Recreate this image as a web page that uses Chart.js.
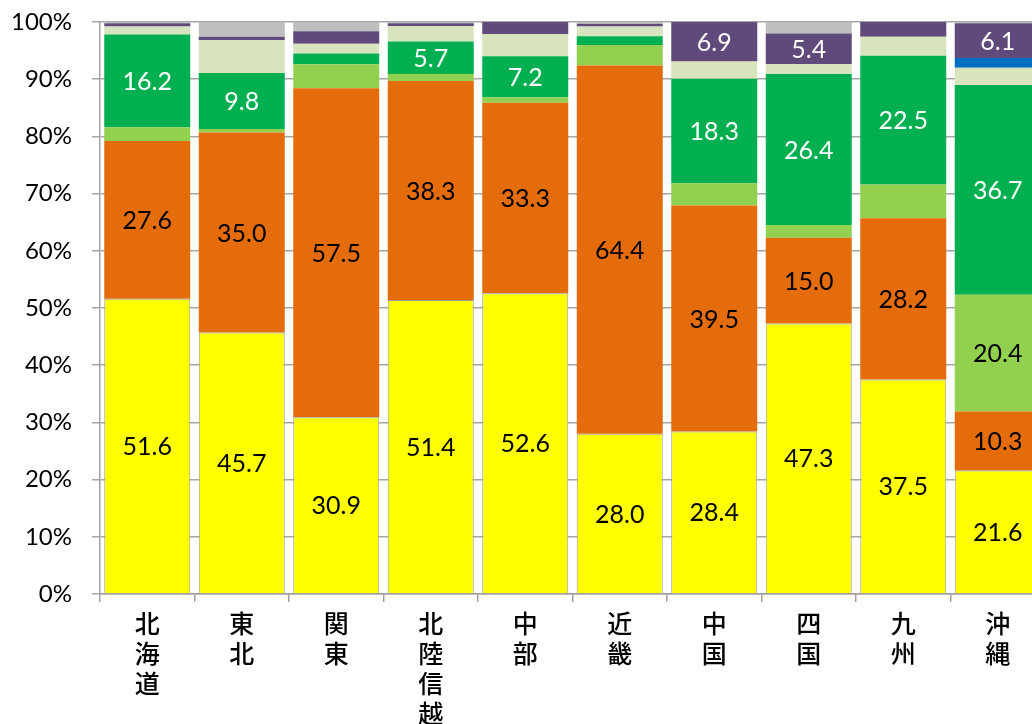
<!DOCTYPE html>
<html>
<head>
<meta charset="utf-8">
<script src="https://cdn.jsdelivr.net/npm/chart.js@4/dist/chart.umd.min.js"></script>
<style>
  html, body { margin: 0; padding: 0; background: #fff; overflow: hidden; }
  #wrap { width: 1048px; height: 724px; }
</style>
</head>
<body>
<div id="wrap"><canvas id="myChart" width="1048" height="724"></canvas></div>
<script>
// regions, written one character per line under the axis
const regions = ['北海道', '東北', '関東', '北陸信越', '中部', '近畿', '中国', '四国', '九州', '沖縄'];

// shares in percent, bottom of the stack first
const yellowSeries    = [51.6, 45.7, 30.9, 51.4, 52.6, 28.0, 28.4, 47.3, 37.5, 21.6];
const orangeSeries    = [27.6, 35.0, 57.5, 38.3, 33.3, 64.4, 39.5, 15.0, 28.2, 10.3];
const lightGreenSeries = [2.4, 0.6, 4.2, 1.2, 0.9, 3.6, 3.9, 2.2, 5.9, 20.4];
const greenSeries     = [16.2, 9.8, 1.9, 5.7, 7.2, 1.5, 18.3, 26.4, 22.5, 36.7];
const paleGreenSeries = [1.4, 5.7, 1.7, 2.7, 3.9, 1.7, 3.0, 1.7, 3.3, 3.0];
const blueSeries      = [0, 0, 0, 0, 0, 0, 0, 0, 0, 1.7];
const purpleSeries    = [0.6, 0.6, 2.2, 0.5, 2.1, 0.5, 6.9, 5.4, 2.6, 6.1];
const graySeries      = [0.2, 2.6, 1.6, 0.2, 0, 0.3, 0, 2.0, 0, 0.2];

const yTicks = [0, 10, 20, 30, 40, 50, 60, 70, 80, 90, 100];

// smallest value that gets a number written on it (null = never)
const labelMin = [0, 0, 10, 5, null, null, 5, null];

const segments = [
  { data: yellowSeries,     color: '#FFFF00', text: '#000' },
  { data: orangeSeries,     color: '#E46C0A', text: '#000' },
  { data: lightGreenSeries, color: '#92D050', text: '#000' },
  { data: greenSeries,      color: '#00B050', text: '#fff' },
  { data: paleGreenSeries,  color: '#D7E4BD', text: '#000' },
  { data: blueSeries,       color: '#0070C0', text: '#fff' },
  { data: purpleSeries,     color: '#604A7B', text: '#fff' },
  { data: graySeries,       color: '#BFBFBF', text: '#000' }
];

const valueLabels = {
  id: 'valueLabels',
  afterDatasetsDraw(chart) {
    const ctx = chart.ctx;
    ctx.save();
    ctx.font = '25px Lato, "Noto Sans", sans-serif';
    ctx.textAlign = 'center';
    ctx.textBaseline = 'middle';
    chart.data.datasets.forEach((ds, i) => {
      const min = labelMin[i];
      if (min === null) return;
      chart.getDatasetMeta(i).data.forEach((bar, j) => {
        const v = ds.data[j];
        if (v < min || v === 0) return;
        ctx.fillStyle = segments[i].text;
        ctx.fillText(v.toFixed(1), bar.x, (bar.y + bar.base) / 2 + 1);
      });
    });
    ctx.restore();
  }
};

const chartCanvas = document.getElementById('myChart');
const myChart = new Chart(chartCanvas, {
  type: 'bar',
  data: {
    labels: regions.map(r => r.split('')),
    datasets: segments.map((s, i) => ({
      data: s.data,
      backgroundColor: s.color,
      borderColor: i === 0 ? '#9A9A9A' : s.color,
      borderWidth: i === 0 ? 1 : 0,
      barPercentage: 0.91,
      categoryPercentage: 1.0
    }))
  },
  options: {
    responsive: false,
    animation: false,
    layout: { padding: { top: 22, left: 0, right: 3, bottom: 0 } },
    plugins: { legend: { display: false }, tooltip: { enabled: false } },
    scales: {
      x: {
        stacked: true,
        grid: { display: true, drawOnChartArea: false, drawTicks: true, tickLength: 8, color: '#A0A0A0', lineWidth: 1.5 },
        border: { display: true, color: '#A0A0A0', width: 1.5 },
        ticks: {
          color: '#000',
          font: { family: '"Noto Sans CJK JP"', size: 25, weight: '500', lineHeight: 1.2 },
          padding: 6,
          maxRotation: 0,
          autoSkip: false
        },
        afterFit(scale) { scale.height = 130; }
      },
      y: {
        stacked: true,
        min: 0,
        max: 100,
        grid: { color: '#A6A6A6', lineWidth: 1.5, tickLength: 8 },
        border: { display: true, color: '#A0A0A0', width: 1.5 },
        afterBuildTicks(scale) { scale.ticks = yTicks.map(v => ({ value: v })); },
        ticks: {
          color: '#000',
          font: { family: 'Lato, "Noto Sans", sans-serif', size: 24 },
          padding: 20,
          callback: v => v + '%'
        },
        afterFit(scale) {
          scale.width = 100;
          scale.paddingTop = 0;
          scale.paddingBottom = 0;
        }
      }
    }
  },
  plugins: [valueLabels]
});
</script>
</body>
</html>
